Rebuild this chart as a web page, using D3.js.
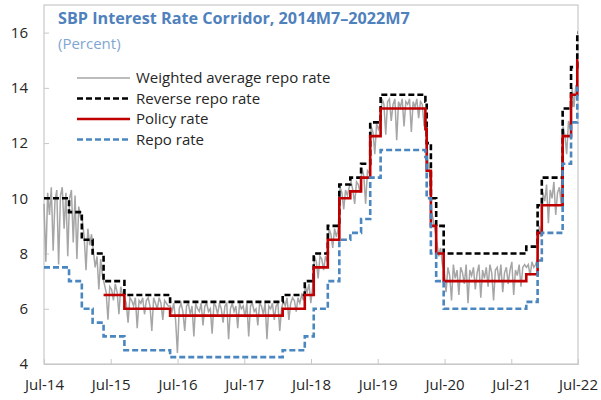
<!DOCTYPE html>
<html>
<head>
<meta charset="utf-8">
<script src="https://cdn.jsdelivr.net/npm/d3@7"></script>
<style>
  body { margin: 0; background: #fff; }
  svg text { font-family: 'Open Sans', 'Noto Sans', sans-serif; }
</style>
</head>
<body>
<div id="chart"></div>
<script>
// step dates for the corridor (policy changes)
var stepDates = ['2014-07-01', '2014-11-15', '2015-01-24', '2015-03-24', '2015-05-23', '2015-09-14',
    '2016-05-21', '2018-01-27', '2018-05-28', '2018-07-16', '2018-10-01', '2018-12-03', '2019-02-01',
    '2019-04-01', '2019-05-21', '2019-07-17', '2020-03-18', '2020-03-25', '2020-04-17', '2020-05-16',
    '2020-06-26', '2021-09-21', '2021-11-22', '2021-12-15', '2022-04-08', '2022-05-24', '2022-06-27',
    '2022-07-01']
var reverseRepo = [10, 9.5, 8.5, 8, 7, 6.5, 6.25, 6.5, 7, 8, 9, 10.5, 10.75, 11.25, 12.75, 13.75, 13.5, 12,
    10, 9, 8, 8.25, 9.75, 10.75, 13.25, 14.75, 16, 16]
var policyRate = [null, null, null, null, 6.5, 6, 5.75, 6, 6.5, 7.5, 8.5, 10, 10.25, 10.75, 12.25, 13.25,
    12.5, 11, 9, 8, 7, 7.25, 8.75, 9.75, 12.25, 13.75, 15, 15]
var repoRate = [7.5, 7, 6, 5.5, 5, 4.5, 4.25, 4.5, 5, 6, 7, 8.5, 8.75, 9.25, 10.75, 11.75, 11.5, 10, 8, 7,
    6, 6.25, 7.75, 8.75, 11.25, 12.75, 14, 14]

// weighted average repo rate, one reading every 10 days from 1 Jul 2014
var wavgStart = '2014-07-01'
var wavgRepo = [
    9.8, 7.7, 10.2, 9.4, 10.4, 8.1, 9.9, 10.3, 7.6, 10.1, 10.4, 8.9, 10.2, 7.9,
    10.0, 10.3, 8.4, 10.1, 7.8, 9.7, 9.3,
    9.2, 8.6, 7.4, 8.9, 8.3, 8.7,
    8.1, 7.5, 7.9, 6.7, 7.8, 7.2,
    6.9, 6.6, 5.6, 6.8, 6.7, 6.3, 6.9, 6.6, 5.8, 6.8, 6.5,
    6.4, 6.2, 5.5, 6.4, 6.3, 6.1, 6.4, 5.3, 6.3, 6.2, 6.4, 5.8, 6.3, 6.4, 6.1, 5.2, 6.4, 6.2, 6.0, 6.4,
    6.2, 5.6, 6.3, 6.2, 6.1,
    6.1, 5.9, 6.2, 5.6, 4.4, 6.0, 6.2, 5.9, 5.2, 6.1, 6.2, 5.8, 6.1, 5.0, 6.2, 6.0, 5.9, 6.2, 5.4, 6.1,
    6.2, 5.9, 6.0, 5.1, 6.2, 6.1, 5.8, 6.2, 6.0, 5.5, 6.1, 6.2, 4.9, 6.0, 6.2, 5.9, 6.1, 5.3, 6.2, 6.0,
    6.1, 5.7, 6.2, 5.0, 6.1, 6.2, 5.9, 6.0, 5.4, 6.2, 6.1, 5.8, 6.2, 4.9, 6.1, 6.0, 6.2, 5.6, 6.1, 6.2,
    5.2, 6.0,
    6.3, 6.1, 6.4, 5.6, 6.2, 6.4, 6.3, 5.9, 6.4, 6.2, 6.5, 6.3,
    6.8, 6.6, 6.9, 6.2, 6.8,
    7.9, 7.7, 7.1, 7.9, 7.8, 7.4, 7.9, 7.7,
    8.9, 8.7, 8.2, 8.9, 8.6, 8.9,
    10.4, 10.2, 9.6, 10.3, 10.1, 10.4,
    10.6, 10.3, 9.8, 10.6, 10.5, 10.2,
    11.1, 10.8, 9.8, 11.0, 10.9,
    12.6, 12.4, 11.6, 12.7, 12.5, 12.7,
    13.6, 13.4, 12.3, 13.5, 13.6, 12.8, 13.4, 13.6, 12.1, 13.5, 13.3, 13.6, 12.6, 13.5, 13.4, 13.6,
    12.4, 13.5, 13.3, 13.6, 12.9, 13.5, 13.4, 12.6,
    12.9, 11.4, 10.9, 9.6, 9.2, 8.8, 8.4, 7.9, 8.2, 7.6,
    7.4, 6.6, 7.5, 7.2, 6.3, 7.6, 7.1, 7.4, 6.5, 7.5, 7.3, 6.9, 7.6, 6.2, 7.4, 7.2, 7.5, 6.7, 7.3, 7.6,
    6.4, 7.4, 7.1, 7.5, 6.8, 7.6, 7.3, 6.3, 7.4, 7.5, 7.0, 7.6, 6.6, 7.3, 7.5, 6.9, 7.4, 7.7, 6.5, 7.4,
    7.2, 7.6, 6.8, 7.5, 7.6,
    7.5, 7.6, 7.2, 7.7, 7.5, 7.6, 7.8,
    9.0, 8.6,
    10.2, 9.9, 10.5, 9.1, 10.3, 10.0, 10.6, 9.4, 10.2, 10.4, 9.8,
    12.6, 12.3, 11.6, 12.8, 12.5,
    14.0, 13.3, 14.1
]

var xTickDates = ['2014-07-01', '2015-07-01', '2016-07-01', '2017-07-01', '2018-07-01', '2019-07-01',
    '2020-07-01', '2021-07-01', '2022-07-01']
var yTicks = [4, 6, 8, 10, 12, 14, 16]

var legendNames = ['Weighted average repo rate', 'Reverse repo rate', 'Policy rate', 'Repo rate']

var width = 601
var height = 400
var parse = d3.timeParse('%Y-%m-%d')

var x = d3.scaleTime()
    .domain([parse('2014-07-01'), parse('2022-07-01')])
    .range([44, 578])

var y = d3.scaleLinear()
    .domain([4, 17])
    .range([364, 5])

var svg = d3.select('#chart').append('svg')
    .attr('width', width)
    .attr('height', height)

// frame
svg.append('rect')
    .attr('x', 44).attr('y', 5)
    .attr('width', 534).attr('height', 359)
    .attr('fill', 'none')
    .attr('stroke', '#c8c8c8')
    .attr('stroke-width', 1.2)

var xAxis = svg.append('g')
    .attr('transform', 'translate(0,' + y(4) + ')')
    .call(d3.axisBottom(x)
        .tickValues(xTickDates.map(parse))
        .tickSize(-5)
        .tickPadding(15)
        .tickFormat(d3.timeFormat('%b-%y')))
xAxis.select('.domain').attr('stroke', '#c8c8c8')
xAxis.selectAll('line').attr('stroke', '#c8c8c8')
xAxis.selectAll('text').attr('font-size', 15).attr('fill', '#262626')

var yAxis = svg.append('g')
    .attr('transform', 'translate(' + x.range()[0] + ',0)')
    .call(d3.axisLeft(y)
        .tickValues(yTicks)
        .tickSize(-5)
        .tickPadding(16))
yAxis.select('.domain').remove()
yAxis.selectAll('line').attr('stroke', '#c8c8c8')
yAxis.selectAll('text').attr('font-size', 15).attr('fill', '#262626')

// series
var steps = stepDates.map(function(d, i) {
    return { date: parse(d), rev: reverseRepo[i], pol: policyRate[i], repo: repoRate[i] }
})

var wavg = wavgRepo.map(function(v, i) {
    return { date: d3.timeDay.offset(parse(wavgStart), i * 10), value: v }
})

var plot = svg.append('g')

plot.append('path')
    .datum(wavg)
    .attr('fill', 'none')
    .attr('stroke', '#a6a6a6')
    .attr('stroke-width', 1.5)
    .attr('d', d3.line()
        .x(function(d) { return x(d.date) })
        .y(function(d) { return y(d.value) }))

function stepLine(key) {
    return d3.line()
        .defined(function(d) { return d[key] != null })
        .curve(d3.curveStepAfter)
        .x(function(d) { return x(d.date) })
        .y(function(d) { return y(d[key]) })
}

plot.append('path')
    .datum(steps)
    .attr('fill', 'none')
    .attr('stroke', '#000')
    .attr('stroke-width', 2.6)
    .attr('stroke-dasharray', '6,3')
    .attr('d', stepLine('rev'))

plot.append('path')
    .datum(steps)
    .attr('fill', 'none')
    .attr('stroke', '#c00000')
    .attr('stroke-width', 2.6)
    .attr('d', stepLine('pol'))

plot.append('path')
    .datum(steps)
    .attr('fill', 'none')
    .attr('stroke', '#4a86bf')
    .attr('stroke-width', 2.6)
    .attr('stroke-dasharray', '6,3')
    .attr('d', stepLine('repo'))

// title
svg.append('text')
    .attr('x', 58).attr('y', 24)
    .attr('font-size', 16.2)
    .attr('font-weight', 'bold')
    .attr('fill', '#4f81bd')
    .text('SBP Interest Rate Corridor, 2014M7\u20132022M7')

svg.append('text')
    .attr('x', 58).attr('y', 49)
    .attr('font-size', 15)
    .attr('fill', '#7fa6d2')
    .text('(Percent)')

// legend
var legendStyles = [
    { stroke: '#a6a6a6', width: 1.6, dash: null },
    { stroke: '#000', width: 2.6, dash: '6,3' },
    { stroke: '#c00000', width: 2.6, dash: null },
    { stroke: '#4a86bf', width: 2.6, dash: '6,3' }
]

var legend = svg.append('g')
    .selectAll('g')
    .data(legendNames)
    .enter().append('g')
    .attr('transform', function(d, i) { return 'translate(77,' + (78 + i * 20.5) + ')' })

legend.append('line')
    .attr('x1', 0).attr('x2', 53)
    .attr('stroke', function(d, i) { return legendStyles[i].stroke })
    .attr('stroke-width', function(d, i) { return legendStyles[i].width })
    .attr('stroke-dasharray', function(d, i) { return legendStyles[i].dash })

legend.append('text')
    .attr('x', 59)
    .attr('dy', '0.35em')
    .attr('font-size', 15)
    .attr('fill', '#262626')
    .text(function(d) { return d })
</script>
</body>
</html>
